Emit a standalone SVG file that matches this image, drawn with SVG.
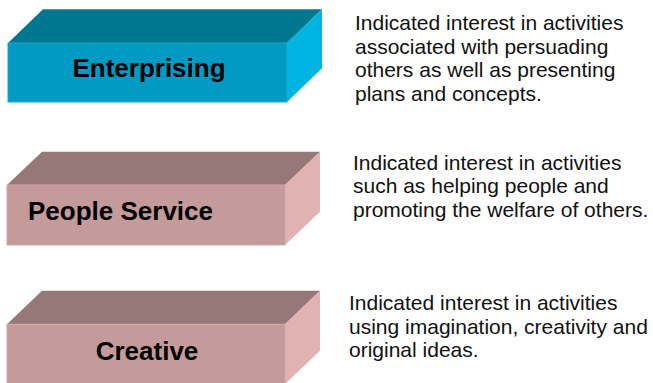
<svg xmlns="http://www.w3.org/2000/svg" width="653" height="383" viewBox="0 0 653 383">
<style>
.lbl{font-family:"Liberation Sans",Arial,sans-serif;font-weight:bold;font-size:26px;fill:#000}
.desc{font-family:"Liberation Sans",Arial,sans-serif;font-size:21px;fill:#111}
.t1{fill:#00778F}.f1{fill:#009AC3;stroke:#1FA8CE;stroke-width:1}.r1{fill:#00B4E1}
.t2{fill:#967878}.f2{fill:#C49A9A;stroke:#CFA8A8;stroke-width:1}.r2{fill:#E1B2B2}
</style>
<rect width="653" height="383" fill="#fff"/>
<g id="enterprising">
<polygon class="t1" points="8,43 43,9.3 322,9.3 287,43"/>
<polygon class="r1" points="287,43 322,9.3 322,68.3 287,102"/>
<rect class="f1" x="8" y="43" width="279" height="59"/>
<text class="lbl" x="149" y="77" text-anchor="middle">Enterprising</text>
</g>
<g id="people-service">
<polygon class="t2" points="7,185 42,151.7 320,151.7 285,185"/>
<polygon class="r2" points="285,185 320,151.7 320,211.7 285,245"/>
<rect class="f2" x="7" y="185" width="278" height="60"/>
<text class="lbl" x="28" y="220">People Service</text>
</g>
<g id="creative">
<polygon class="t2" points="7,324.3 42,290.7 320,290.7 285,324.3"/>
<polygon class="r2" points="285,324.3 320,290.7 320,350.7 285,384"/>
<rect class="f2" x="7" y="324.3" width="278" height="60"/>
<text class="lbl" x="147" y="360" text-anchor="middle">Creative</text>
</g>
<g id="desc-enterprising">
<text class="desc" x="355" y="30">Indicated interest in activities</text>
<text class="desc" x="355" y="53.5">associated with persuading</text>
<text class="desc" x="355" y="77">others as well as presenting</text>
<text class="desc" x="355" y="100.5">plans and concepts.</text>
</g>
<g id="desc-people">
<text class="desc" x="353" y="170">Indicated interest in activities</text>
<text class="desc" x="353" y="193">such as helping people and</text>
<text class="desc" x="353" y="216.5">promoting the welfare of others.</text>
</g>
<g id="desc-creative">
<text class="desc" x="349" y="310">Indicated interest in activities</text>
<text class="desc" x="349" y="333.5">using imagination, creativity and</text>
<text class="desc" x="349" y="357">original ideas.</text>
</g>
<g id="connectors"/>
</svg>
